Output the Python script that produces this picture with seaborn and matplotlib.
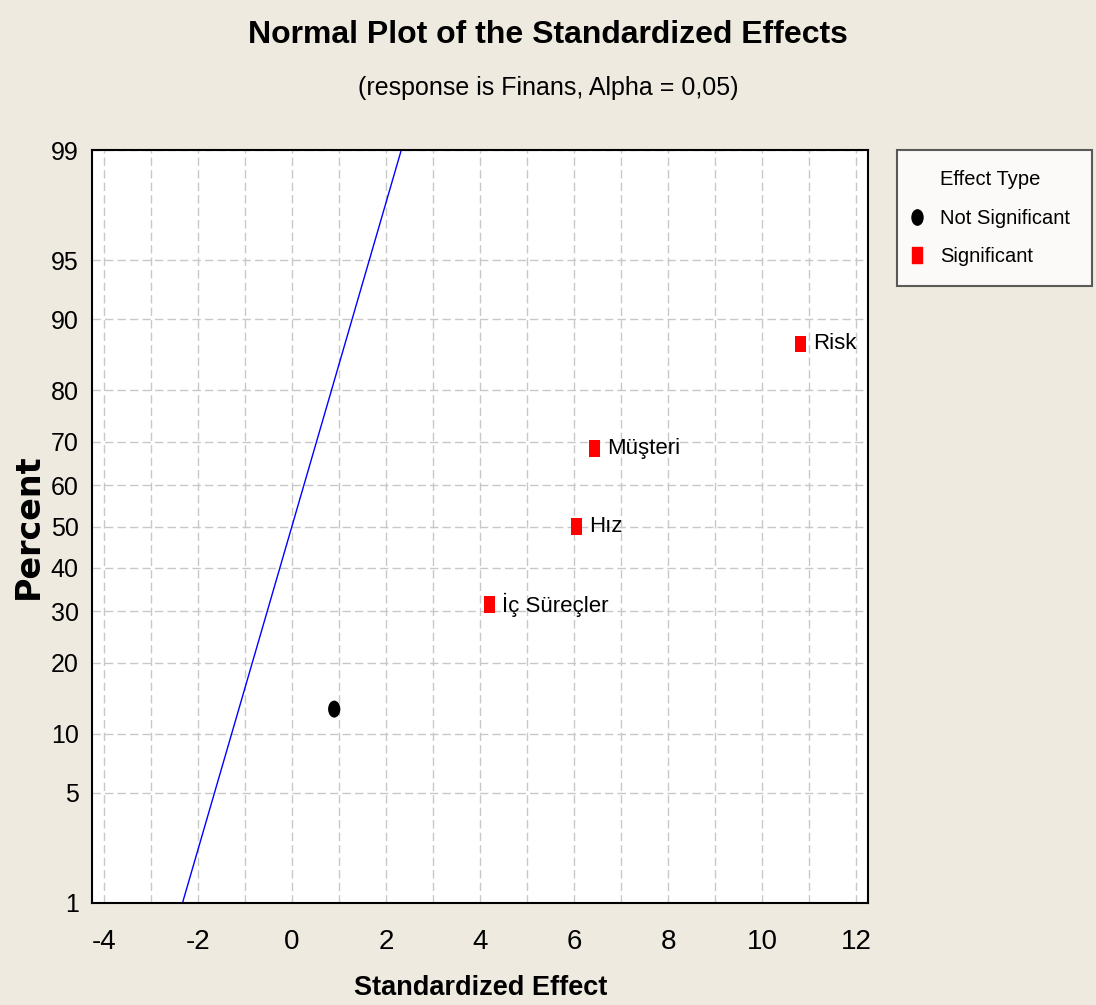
import numpy as np
import pandas as pd
import matplotlib
matplotlib.use('Agg')
import matplotlib.pyplot as plt
import seaborn as sns
from matplotlib.path import Path
from matplotlib.lines import Line2D
from statistics import NormalDist

# data
effect_names = ['', 'İç Süreçler', 'Hız', 'Müşteri', 'Risk']
effect_values = [0.90, 4.20, 6.05, 6.43, 10.82]
effect_percent = [12.96, 31.48, 50.0, 68.52, 87.04]
effect_type = ['Not Significant', 'Significant', 'Significant', 'Significant', 'Significant']

line_percent = [1, 99]
y_tick_percent = [1, 5, 10, 20, 30, 40, 50, 60, 70, 80, 90, 95, 99]
x_ticks = [-4, -2, 0, 2, 4, 6, 8, 10, 12]

nd = NormalDist()
def z(p):
    return [nd.inv_cdf(v / 100) for v in p]

df = pd.DataFrame({'name': effect_names, 'effect': effect_values,
                   'percent': effect_percent, 'type': effect_type})
df['z'] = z(df['percent'])
df_line = pd.DataFrame({'percent': line_percent})
df_line['z'] = z(df_line['percent'])
df_line['effect'] = df_line['z']  # reference line: effect ~ N(0, 1)

sns.set_style('white')
plt.rcParams['font.family'] = ['Liberation Sans', 'DejaVu Sans']
plt.rcParams['text.color'] = 'black'
plt.rcParams['xtick.color'] = 'black'
plt.rcParams['ytick.color'] = 'black'

bg = '#EEEAE0'
fig = plt.figure(figsize=(10.96, 10.05), dpi=100, facecolor=bg)
ax = fig.add_axes([92/1096, 1 - 903/1005, (868-92)/1096, (903-150)/1005])
ax.set_facecolor('white')

# tall markers (the original is squeezed horizontally)
sq = Path([(-0.69, -1), (0.69, -1), (0.69, 1), (-0.69, 1), (-0.69, -1)],
          [Path.MOVETO, Path.LINETO, Path.LINETO, Path.LINETO, Path.CLOSEPOLY])
circ = Path.unit_circle()
circ = Path(circ.vertices * [0.72, 1], circ.codes)

sns.lineplot(data=df_line, x='effect', y='z', color='blue', linewidth=1, ax=ax)
sns.scatterplot(data=df, x='effect', y='z', hue='type', style='type',
                palette={'Not Significant': 'black', 'Significant': '#FF0000'},
                markers={'Not Significant': circ, 'Significant': sq},
                size='type', sizes={'Not Significant': 150, 'Significant': 135},
                linewidth=0, legend=False, ax=ax, zorder=5)

for _, r in df.iterrows():
    if r['name']:
        ax.annotate(r['name'], (r['effect'], r['z']), xytext=(9, 0),
                    textcoords='offset points', ha='left', va='center', fontsize=16)

ax.set_xlim(-4.25, 12.25)
ax.set_ylim(z([1])[0], z([99])[0])
ax.set_xticks(x_ticks)
ax.set_xticklabels([str(v) for v in x_ticks], fontsize=20)
ax.set_xticks(range(-4, 13), minor=True)
ax.set_yticks(z(y_tick_percent))
ax.set_yticklabels([str(v) for v in y_tick_percent], fontsize=18)

ax.grid(True, which='both', axis='x', color='#C8C8C8', linestyle=(0, (6, 3)), linewidth=1)
ax.grid(True, which='major', axis='y', color='#C8C8C8', linestyle=(0, (6, 3)), linewidth=1)
ax.tick_params(axis='x', which='major', direction='out', length=8.5, width=1.5, pad=10)
ax.tick_params(axis='x', which='minor', length=0)
ax.tick_params(axis='y', direction='out', length=6, width=1.5, pad=3.5)
for s in ax.spines.values():
    s.set_visible(True)
    s.set_color('black')
    s.set_linewidth(1.5)
ax.set_xlabel('')
ax.set_ylabel('')

fig.text(548/1096, 1 - 35/1005, 'Normal Plot of the Standardized Effects', ha='center', va='center',
         fontsize=23, fontweight='bold')
fig.text(548/1096, 1 - 88/1005, '(response is Finans, Alpha = 0,05)', ha='center', va='center', fontsize=18)
fig.text(481/1096, 1 - 988/1005, 'Standardized Effect', ha='center', va='center',
         fontsize=19.5, fontweight='bold')
fig.text(28/1096, 1 - 526/1005, 'Percent', ha='center', va='center', rotation=90,
         fontsize=24, fontweight='bold', family='DejaVu Sans')

handles = [Line2D([], [], linestyle='none', label='Effect Type'),
           Line2D([], [], linestyle='none', marker=circ, markersize=11, color='black', label='Not Significant'),
           Line2D([], [], linestyle='none', marker=sq, markersize=11, color='#FF0000', label='Significant')]
leg = fig.legend(handles=handles, loc='upper left', mode='expand',
                 bbox_to_anchor=(897/1096, 1 - 280/1005, (1092-897)/1096, 130/1005),
                 fontsize=14.5, frameon=True, fancybox=False, edgecolor='#333333',
                 handlelength=0.0, handletextpad=1.15, borderpad=1.0, labelspacing=0.97,
                 borderaxespad=0)
leg.get_frame().set_linewidth(1.5)
leg.get_frame().set_facecolor('white')

fig.savefig('out.png', dpi=100, facecolor=bg)
